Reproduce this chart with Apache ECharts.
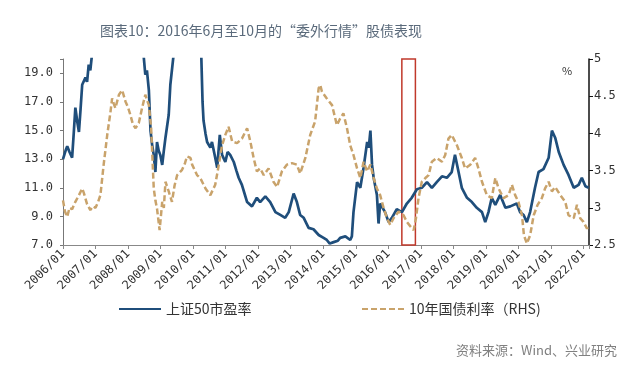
<!DOCTYPE html>
<html><head><meta charset="utf-8">
<script src="https://cdn.jsdelivr.net/npm/echarts@6/dist/echarts.min.js"></script>
<style>html,body{margin:0;padding:0;background:#fff}#c{width:640px;height:374px}</style>
</head><body><div id="c"></div>
<script>
// 上证50市盈率 (left axis), x = decimal year
const peDates = [2006.00,2006.08,2006.13,2006.20,2006.28,2006.33,2006.38,2006.44,2006.49,2006.54,2006.59,2006.69,2006.74,2006.79,2006.84,2006.90,2006.95,2007.10,2007.30,2007.50,2007.80,2008.00,2008.20,2008.40,2008.48,2008.53,2008.58,2008.64,2008.69,2008.74,2008.79,2008.84,2008.89,2008.94,2008.99,2009.05,2009.10,2009.15,2009.25,2009.30,2009.40,2009.50,2009.60,2009.75,2009.90,2010.10,2010.25,2010.29,2010.32,2010.38,2010.43,2010.53,2010.58,2010.68,2010.74,2010.82,2010.89,2010.99,2011.06,2011.14,2011.25,2011.33,2011.40,2011.50,2011.58,2011.66,2011.81,2011.96,2012.06,2012.22,2012.37,2012.53,2012.68,2012.83,2012.94,2013.09,2013.19,2013.29,2013.40,2013.55,2013.70,2013.86,2014.01,2014.11,2014.20,2014.32,2014.45,2014.52,2014.68,2014.83,2014.88,2014.93,2015.04,2015.14,2015.24,2015.35,2015.40,2015.45,2015.50,2015.55,2015.65,2015.70,2015.75,2015.80,2015.90,2016.01,2016.11,2016.26,2016.42,2016.57,2016.72,2016.88,2017.03,2017.19,2017.34,2017.49,2017.65,2017.80,2017.95,2018.05,2018.16,2018.26,2018.42,2018.57,2018.72,2018.88,2018.98,2019.08,2019.18,2019.29,2019.44,2019.60,2019.75,2019.95,2020.05,2020.16,2020.26,2020.36,2020.51,2020.62,2020.77,2020.93,2021.03,2021.13,2021.24,2021.39,2021.54,2021.70,2021.85,2021.95,2022.06,2022.16];
const peValues = [13.0,13.6,13.9,13.5,13.1,14.8,16.6,15.6,14.9,16.5,18.2,18.7,18.4,19.6,19.2,20.5,22,25,32,38,45,38,30,22,20.2,18.9,19.2,17.8,15.0,14.0,13.3,12.1,14.2,13.6,13.3,12.6,13.6,14.5,16.1,18.2,20.3,23,25,22,22.5,21.5,20.3,17.0,15.7,14.8,14.2,13.8,14.2,13.1,12.4,14.7,13.3,12.8,13.5,13.3,12.8,12.2,11.7,11.2,10.6,10.0,9.7,10.3,10.0,10.4,10.0,9.3,9.1,8.9,9.3,10.6,10.0,9.1,8.9,8.2,8.1,7.7,7.5,7.35,7.1,7.2,7.3,7.5,7.6,7.35,7.6,9.3,11.4,11.0,12.4,14.2,13.8,15.0,12.6,11.7,10.5,8.5,9.9,9.8,9.3,8.6,8.9,9.5,9.3,9.9,10.3,10.9,11.0,11.4,11.0,11.4,11.8,11.7,12.1,13.3,12.1,11.0,10.3,10.0,9.6,9.3,8.6,9.3,10.3,9.8,10.5,9.6,9.7,9.9,9.3,9.1,8.6,9.3,11.0,12.1,12.3,13.1,15.0,14.5,13.5,12.6,11.9,11.0,11.2,11.7,11.1,11.0];

// 10年国债利率 (right axis, %)
const yieldDates = [2006.00,2006.06,2006.13,2006.20,2006.28,2006.38,2006.49,2006.59,2006.64,2006.69,2006.74,2006.84,2006.92,2007.00,2007.08,2007.15,2007.25,2007.36,2007.46,2007.51,2007.56,2007.61,2007.72,2007.82,2007.92,2008.00,2008.07,2008.15,2008.23,2008.33,2008.43,2008.53,2008.58,2008.64,2008.71,2008.79,2008.84,2008.89,2008.97,2009.05,2009.10,2009.15,2009.25,2009.35,2009.43,2009.51,2009.66,2009.75,2009.81,2009.92,2009.97,2010.12,2010.22,2010.38,2010.53,2010.68,2010.79,2010.89,2010.99,2011.09,2011.20,2011.35,2011.50,2011.66,2011.76,2011.86,2011.96,2012.06,2012.17,2012.32,2012.47,2012.58,2012.73,2012.88,2013.04,2013.19,2013.29,2013.45,2013.60,2013.75,2013.86,2013.91,2013.96,2014.11,2014.27,2014.42,2014.52,2014.62,2014.73,2014.83,2014.93,2015.04,2015.14,2015.24,2015.35,2015.45,2015.55,2015.65,2015.75,2015.86,2015.96,2016.06,2016.16,2016.32,2016.47,2016.57,2016.68,2016.78,2016.85,2016.93,2017.03,2017.14,2017.24,2017.34,2017.49,2017.65,2017.75,2017.85,2017.95,2018.11,2018.26,2018.36,2018.52,2018.67,2018.77,2018.88,2019.03,2019.18,2019.29,2019.39,2019.54,2019.70,2019.80,2019.90,2020.00,2020.11,2020.17,2020.26,2020.36,2020.47,2020.59,2020.72,2020.82,2020.93,2021.03,2021.13,2021.29,2021.44,2021.54,2021.70,2021.80,2021.90,2022.00,2022.11,2022.16];
const yieldValues = [3.10,2.95,2.88,3.00,2.98,3.08,3.17,3.26,3.20,3.22,3.05,2.97,3.02,3.00,3.08,3.17,3.58,3.98,4.29,4.47,4.40,4.34,4.52,4.58,4.43,4.35,4.25,4.12,4.07,4.14,4.34,4.52,4.45,4.38,4.07,3.26,3.10,2.99,2.70,3.08,3.00,3.35,3.22,3.08,3.30,3.44,3.51,3.60,3.69,3.67,3.58,3.44,3.40,3.26,3.17,3.31,3.58,3.84,3.98,4.09,3.89,3.87,3.93,4.07,3.89,3.67,3.49,3.53,3.44,3.53,3.35,3.28,3.49,3.58,3.60,3.58,3.46,3.67,3.98,4.16,4.61,4.65,4.56,4.47,4.38,4.11,4.20,4.27,4.07,3.84,3.71,3.53,3.40,3.62,3.49,3.58,3.40,3.26,3.17,2.99,2.86,2.77,2.86,2.95,2.90,2.81,2.75,2.70,2.86,3.13,3.35,3.40,3.44,3.62,3.67,3.62,3.71,3.93,3.98,3.84,3.67,3.53,3.58,3.67,3.53,3.35,3.17,3.13,3.40,3.26,3.13,3.17,3.31,3.17,3.08,2.90,2.63,2.52,2.63,2.90,3.04,3.13,3.26,3.35,3.22,3.28,3.17,3.08,2.90,2.86,3.04,2.86,2.81,2.72,2.77];

// highlighted period: June to October 2016
const highlightStart = 2016 + 5/12;
const highlightEnd = 2016 + 10/12;

const seriesNames = ['上证50市盈率', '10年国债利率（RHS)'];
const titleText = '图表10：2016年6月至10月的“委外行情”股债表现';
const sourceText = '资料来源：Wind、兴业研究';

const peData = peDates.map((d, i) => [d, peValues[i]]);
const yieldData = yieldDates.map((d, i) => [d, yieldValues[i]]);

const chart = echarts.init(document.getElementById('c'));
const mono = 'DejaVu Sans Mono';
const legendBase = {
  top: 297, itemWidth: 42, itemHeight: 10, itemGap: 5,
  itemStyle: { opacity: 0, borderWidth: 0 },
  textStyle: { fontSize: 14, color: '#333', fontFamily: 'Noto Sans CJK SC' }
};
chart.setOption({
  animation: false,
  backgroundColor: '#fff',
  title: {
    text: titleText, left: 95, top: 19,
    textStyle: { fontSize: 14, color: '#5a6a7b', fontWeight: 'normal', fontFamily: 'Noto Sans CJK SC' }
  },
  graphic: [
    { type: 'text', left: 562, top: 65, style: { text: '%', fontSize: 11, fill: '#333', fontFamily: 'Noto Sans CJK SC' } },
    { type: 'text', right: 23, top: 344, style: { text: sourceText, fontSize: 13, fill: '#808080', fontFamily: 'Noto Sans CJK SC' } }
  ],
  legend: [
    Object.assign({ data: [seriesNames[0]], left: 113 }, legendBase),
    Object.assign({ data: [seriesNames[1]], left: 356 }, legendBase)
  ],
  grid: { left: 63, right: 51, top: 59, bottom: 129 },
  xAxis: {
    type: 'value', min: 2006, max: 2022.17, interval: 1,
    axisLine: { lineStyle: { color: '#888', width: 1 } },
    axisTick: { show: true, length: 4, lineStyle: { color: '#888' } },
    splitLine: { show: false },
    axisLabel: {
      rotate: 45, fontSize: 12, color: '#333', fontFamily: mono, margin: 7,
      formatter: v => Number.isInteger(v) ? v + '/01' : ''
    }
  },
  yAxis: [
    {
      type: 'value', min: 7, max: 20, interval: 2, position: 'left',
      axisLine: { show: true, lineStyle: { color: '#777', width: 1 } },
      axisTick: { show: true, length: 3, lineStyle: { color: '#777' } },
      splitLine: { show: false },
      axisLabel: { fontSize: 12, color: '#333', fontFamily: mono, margin: 10,
        formatter: v => ((v - 7) % 2 === 0) ? v.toFixed(1) : '' }
    },
    {
      type: 'value', min: 2.5, max: 5, interval: 0.5, position: 'right',
      axisLine: { show: true, lineStyle: { color: '#111', width: 1.5 } },
      axisTick: { show: true, length: 4, lineStyle: { color: '#111' } },
      splitLine: { show: false },
      axisLabel: { fontSize: 12, color: '#333', fontFamily: mono, margin: 5,
        formatter: v => String(v) }
    }
  ],
  series: [
    {
      name: seriesNames[0], type: 'line', yAxisIndex: 0, data: peData,
      showSymbol: false, symbol: 'none', clip: true,
      lineStyle: { color: '#1f4e7b', width: 2.7 }, itemStyle: { color: '#1f4e7b' }
    },
    {
      name: seriesNames[1], type: 'line', yAxisIndex: 1, data: yieldData,
      showSymbol: false, symbol: 'none', clip: true,
      lineStyle: { color: '#c9a36b', width: 2.5, type: [6, 3] }, itemStyle: { color: '#c9a36b' },
      markArea: {
        silent: true,
        itemStyle: { color: 'rgba(0,0,0,0)', borderColor: '#c0392b', borderWidth: 1.5 },
        data: [[{ xAxis: highlightStart }, { xAxis: highlightEnd }]]
      }
    }
  ]
});
</script></body></html>
